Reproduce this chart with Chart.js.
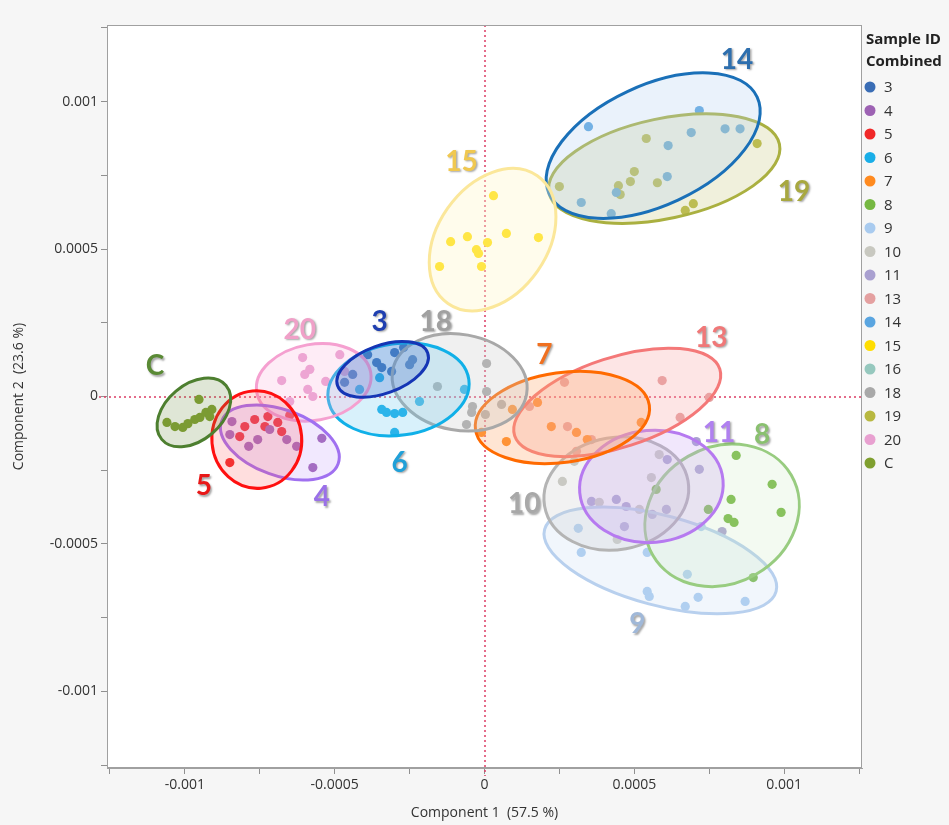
<!DOCTYPE html>
<html>
<head>
<meta charset="utf-8">
<script src="https://cdn.jsdelivr.net/npm/chart.js@4/dist/chart.umd.min.js"></script>
<style>
  body { margin: 0; background: #f6f6f6; }
  canvas { display: block; }
</style>
</head>
<body>
<canvas id="pca" width="949" height="825"></canvas>
<script>
// legend order
var groupNames = ['3', '4', '5', '6', '7', '8', '9', '10', '11', '13', '14', '15', '16', '18', '19', '20', 'C'];
var groupColors = ['#3a6db5', '#9d62b3', '#f02828', '#19aee8', '#ff8a1f', '#76b843', '#a9cbef', '#c8c8c0',
                   '#a9a0d0', '#e4a0a0', '#5aa5e0', '#ffdd00', '#96c8be', '#a8a8a8', '#b8b840', '#e8a0d0', '#7f9f2f'];

// scores, [component 1, component 2]
var pts3 = [[-0.00044, 0.000075], [-0.00039, 0.000142], [-0.00036, 0.000115], [-0.000343, 0.000098], [-0.00031, 0.000085],
            [-0.0003, 0.000149], [-0.00025, 0.000108], [-0.00024, 0.000125], [-0.00027, 0.000166], [-0.000467, 0.000048]];
var pts4 = [[-0.00085, -0.000129], [-0.000843, -0.000085], [-0.000787, -0.000169], [-0.000757, -0.000146], [-0.000627, -0.000169],
            [-0.000573, -0.000241], [-0.000543, -0.000142], [-0.000717, -0.000112], [-0.00066, -0.000146]];
var pts5 = [[-0.0008, -0.000102], [-0.000723, -0.000068], [-0.00069, -0.000088], [-0.000677, -0.000119], [-0.000733, -0.000102],
            [-0.00085, -0.000224], [-0.00065, -0.000064], [-0.000767, -0.000078], [-0.000817, -0.000136]];
var pts6 = [[-0.000343, -0.000044], [-0.000327, -0.000054], [-0.0003, -0.000058], [-0.000273, -0.000054], [-0.000217, -0.000017],
            [-0.0003, -0.000122], [-0.000067, 0.000024], [-0.00035, 0.000064], [-0.000417, 0.000024]];
var pts7 = [[-0.00001, -0.000122], [0.000073, -0.000153], [0.000093, -0.000044], [0.000177, -0.00002], [0.000223, -0.000102],
            [0.000307, -0.000122], [0.000343, -0.000146], [0.000523, -0.000088]];
var pts8 = [[0.00084, -0.0002], [0.00096, -0.000298], [0.00099, -0.000393], [0.000823, -0.000349], [0.000813, -0.000414],
            [0.000833, -0.000427], [0.000747, -0.000383], [0.000573, -0.000315], [0.000897, -0.000614]];
var pts9 = [[0.000313, -0.000447], [0.000323, -0.000529], [0.000543, -0.000529], [0.000543, -0.000661], [0.00055, -0.000678],
            [0.00067, -0.000712], [0.000713, -0.000681], [0.00087, -0.000695], [0.000677, -0.000603], [0.000723, -0.000441]];
var pts10 = [[0.00026, -0.000288], [0.0003, -0.00022], [0.000383, -0.000359], [0.000443, -0.000485], [0.000517, -0.000383],
             [0.000583, -0.000197], [0.000557, -0.000275]];
var pts11 = [[0.000357, -0.000356], [0.00044, -0.000349], [0.000473, -0.000373], [0.000467, -0.000441], [0.00061, -0.000214],
             [0.000717, -0.000247], [0.000707, -0.000153], [0.000607, -0.000383], [0.000793, -0.000458], [0.00056, -0.0004]];
var pts13 = [[0.000267, 0.000048], [0.00015, -0.000034], [0.000277, -0.000102], [0.000593, 0.000054], [0.00075, -0.000003],
             [0.000653, -0.000071], [0.000307, -0.000186], [0.000357, -0.000146]];
var pts14 = [[0.000347, 0.000915], [0.000717, 0.00097], [0.00069, 0.000895], [0.000803, 0.000908], [0.000853, 0.000908],
             [0.000613, 0.000851], [0.00061, 0.000746], [0.000323, 0.000658], [0.000423, 0.00062], [0.00044, 0.000692]];
var pts15 = [[0.00003, 0.000681], [-0.000113, 0.000525], [-0.000057, 0.000542], [-0.000027, 0.000498], [-0.00002, 0.000485],
             [0.00001, 0.000522], [0.000073, 0.000553], [0.00018, 0.000539], [-0.00015, 0.000441], [-0.00001, 0.000441]];
var pts16 = [];
var pts18 = [[0.000007, 0.000112], [-0.000157, 0.000034], [0.000007, 0.000017], [-0.00004, -0.000034], [-0.000043, -0.000054],
             [-0.00006, -0.000095], [0.000057, -0.000027], [0.000003, -0.000061]];
var pts19 = [[0.00054, 0.000875], [0.00091, 0.000858], [0.00025, 0.000712], [0.0005, 0.000763], [0.000487, 0.000729],
             [0.000447, 0.000715], [0.000453, 0.000685], [0.000577, 0.000725], [0.00067, 0.000631], [0.000697, 0.000654]];
var pts20 = [[-0.000607, 0.000132], [-0.000677, 0.000054], [-0.000583, 0.000092], [-0.0006, 0.000075], [-0.00059, 0.000024],
             [-0.000573, 0], [-0.000483, 0.000142], [-0.00053, 0.000051], [-0.000467, 0.000085], [-0.00065, -0.000017]];
var ptsC = [[-0.00106, -0.000088], [-0.001033, -0.000102], [-0.001007, -0.000105], [-0.000967, -0.000078], [-0.00095, -0.000071],
            [-0.00093, -0.000054], [-0.00091, -0.000044], [-0.000953, -0.00001], [-0.000917, -0.000068], [-0.00099, -0.000092]];
var allPts = [pts3, pts4, pts5, pts6, pts7, pts8, pts9, pts10, pts11, pts13, pts14, pts15, pts16, pts18, pts19, pts20, ptsC];

// density ellipses (centre, semi axes, angle in degrees), drawn in this order
var ellNames = ['9', '8', '10', '11', '13', '7', '19', '14', '15', '18', '6', '20', '3', '4', '5', 'C'];
var ellCx = [0.000587, 0.000793, 0.00044, 0.000557, 0.000443, 0.00026, 0.0006, 0.000563, 0.000027, -0.000083, -0.000287, -0.00057, -0.00034, -0.000683, -0.00076, -0.00097];
var ellCy = [-0.000556, -0.000403, -0.000329, -0.000305, -0.00002, -0.000071, 0.000773, 0.000851, 0.000532, 0.000048, 0.000024, 0.000048, 0.000092, -0.000156, -0.000146, -0.000054];
var ellA = [0.0004, 0.000267, 0.000243, 0.00024, 0.00036, 0.000293, 0.000393, 0.000383, 0.00026, 0.000227, 0.000237, 0.000193, 0.00016, 0.000207, 0.000163, 0.00014];
var ellB = [0.00015, 0.000227, 0.000187, 0.000187, 0.00015, 0.00015, 0.000167, 0.0002, 0.000183, 0.00016, 0.000153, 0.000127, 0.00008, 0.00011, 0.00015, 0.000093];
var ellAng = [-15, 30, 10, 5, 18, 8, 12, 25, 55, -10, 8, 10, 20, -20, 95, 40];
var ellStroke = ['#b8d0ee', '#98cc80', '#b4b4b4', '#b67af0', '#f47878', '#ff6a00', '#aab040', '#1a70b8',
                 '#fbe79a', '#a8a8a8', '#10b0e8', '#f5a0d0', '#1535b5', '#a070f0', '#ff1010', '#4d7f2f'];
var ellFill = ['rgba(200,220,245,0.25)', 'rgba(200,230,190,0.22)', 'rgba(205,205,205,0.25)', 'rgba(200,160,245,0.25)',
               'rgba(250,170,170,0.3)', 'rgba(255,170,110,0.3)', 'rgba(200,200,130,0.28)', 'rgba(180,210,240,0.28)',
               'rgba(255,245,200,0.35)', 'rgba(205,205,205,0.3)', 'rgba(100,200,240,0.25)', 'rgba(250,180,220,0.25)',
               'rgba(60,100,200,0.25)', 'rgba(190,150,250,0.22)', 'rgba(255,90,90,0.2)', 'rgba(110,140,70,0.22)'];

// group labels anchored at data coordinates
var lblText = ['14', '15', '19', '20', '3', '18', 'C', '7', '13', '11', '8', '5', '4', '6', '10', '9'];
var lblX = [0.000843, -0.000077, 0.001033, -0.000617, -0.00035, -0.000163, -0.0011, 0.0002, 0.000757, 0.000783, 0.000927, -0.000937, -0.000543, -0.000283, 0.000133, 0.00051];
var lblY = [0.001142, 0.000797, 0.000695, 0.000227, 0.000254, 0.000254, 0.000102, 0.000142, 0.0002, -0.000122, -0.000132, -0.000305, -0.000342, -0.000224, -0.000366, -0.000773];
var lblColor = ['#2e6fae', '#f0c850', '#a8a840', '#f0a0c8', '#1f3fb0', '#a0a0a0', '#5a8a35', '#f07020',
                '#f07878', '#b080f0', '#8ac070', '#e81818', '#9a70e8', '#20a0d8', '#a8a8a8', '#a0b8d8'];

// axes
var axisMin = -0.00126, axisMax = 0.00126;
var tickValues = [-0.00125, -0.001, -0.00075, -0.0005, -0.00025, 0, 0.00025, 0.0005, 0.00075, 0.001, 0.00125];
var majorTicks = [-0.001, -0.0005, 0, 0.0005, 0.001];
var tickLabels = ['-0.001', '-0.0005', '0', '0.0005', '0.001'];

function tickText(v) {
    for (var i = 0; i < majorTicks.length; i++) {
        if (Math.abs(v - majorTicks[i]) < 1e-9) return tickLabels[i];
    }
    return '';
}

var datasets = [];
for (var i = 0; i < groupNames.length; i++) {
    datasets.push({
        label: groupNames[i],
        data: allPts[i].map(function (p) { return { x: p[0], y: p[1] }; }),
        backgroundColor: groupColors[i],
        borderWidth: 0,
        pointRadius: 4.6,
        pointHoverRadius: 4.6
    });
}

var bgPlugin = {
    id: 'bg',
    beforeDraw: function (chart) {
        var ctx = chart.ctx, a = chart.chartArea;
        ctx.save();
        ctx.fillStyle = '#f6f6f6';
        ctx.fillRect(0, 0, chart.width, chart.height);
        ctx.fillStyle = '#ffffff';
        ctx.fillRect(a.left, a.top, a.right - a.left, a.bottom - a.top);
        ctx.restore();
    },
    beforeDatasetsDraw: function (chart) {
        // dotted zero lines
        var ctx = chart.ctx, a = chart.chartArea;
        var x0 = chart.scales.x.getPixelForValue(0);
        var y0 = chart.scales.y.getPixelForValue(0);
        ctx.save();
        ctx.strokeStyle = '#dc3c64';
        ctx.lineWidth = 1.5;
        ctx.setLineDash([2, 3]);
        ctx.beginPath();
        ctx.moveTo(Math.round(x0), a.top);
        ctx.lineTo(Math.round(x0), a.bottom + 8);
        ctx.moveTo(a.left - 8, Math.round(y0));
        ctx.lineTo(a.right, Math.round(y0));
        ctx.stroke();
        ctx.restore();
    },
    afterDatasetsDraw: function (chart) {
        var ctx = chart.ctx, a = chart.chartArea;
        var sx = chart.scales.x, sy = chart.scales.y;
        var k = (sx.getPixelForValue(0.001) - sx.getPixelForValue(0)) / 0.001;
        ctx.save();
        ctx.beginPath();
        ctx.rect(a.left, a.top, a.right - a.left, a.bottom - a.top);
        ctx.clip();
        for (var i = 0; i < ellNames.length; i++) {
            ctx.beginPath();
            ctx.ellipse(sx.getPixelForValue(ellCx[i]), sy.getPixelForValue(ellCy[i]),
                ellA[i] * k, ellB[i] * k, -ellAng[i] * Math.PI / 180, 0, Math.PI * 2);
            ctx.fillStyle = ellFill[i];
            ctx.fill();
            ctx.lineWidth = 3;
            ctx.strokeStyle = ellStroke[i];
            ctx.stroke();
        }
        ctx.restore();

        // group labels
        ctx.save();
        ctx.font = 'bold 28px Lato, "Open Sans", sans-serif';
        ctx.textAlign = 'center';
        ctx.textBaseline = 'middle';
        ctx.shadowColor = 'rgba(0,0,0,0.35)';
        ctx.shadowOffsetX = 1.5;
        ctx.shadowOffsetY = 1.5;
        ctx.shadowBlur = 2;
        for (var j = 0; j < lblText.length; j++) {
            ctx.fillStyle = lblColor[j];
            ctx.fillText(lblText[j], sx.getPixelForValue(lblX[j]), sy.getPixelForValue(lblY[j]));
        }
        ctx.restore();

        // frame
        ctx.save();
        ctx.strokeStyle = '#a0a0a0';
        ctx.lineWidth = 1;
        ctx.strokeRect(a.left + 0.5, a.top + 0.5, a.right - a.left - 1, a.bottom - a.top - 1);
        ctx.restore();
    },
    afterDraw: function (chart) {
        // legend
        var ctx = chart.ctx;
        ctx.save();
        ctx.fillStyle = '#222';
        ctx.font = 'bold 15px "Open Sans", sans-serif';
        ctx.textBaseline = 'middle';
        ctx.fillText('Sample ID', 866, 40);
        ctx.fillText('Combined', 866, 62);
        ctx.font = '15px "Open Sans", sans-serif';
        for (var i = 0; i < groupNames.length; i++) {
            var y = 87 + i * 23.5;
            ctx.fillStyle = groupColors[i];
            ctx.beginPath();
            ctx.arc(870, y, 5.5, 0, Math.PI * 2);
            ctx.fill();
            ctx.fillStyle = '#333';
            ctx.fillText(groupNames[i], 884, y + 1);
        }
        ctx.restore();
    }
};

function scaleOpts(title, titlePad) {
    return {
        type: 'linear',
        min: axisMin,
        max: axisMax,
        afterBuildTicks: function (scale) {
            scale.ticks = tickValues.map(function (v) { return { value: v }; });
        },
        ticks: {
            autoSkip: false,
            maxRotation: 0,
            padding: 3,
            color: '#333',
            font: { family: '"Open Sans", sans-serif', size: 14 },
            callback: function (v) { return tickText(v); }
        },
        grid: { drawOnChartArea: false, drawTicks: true, tickLength: 6, tickColor: '#909090' },
        border: { display: true, color: '#a0a0a0' },
        title: {
            display: true,
            text: title,
            color: '#333',
            font: { family: '"Open Sans", sans-serif', size: 14 },
            padding: titlePad
        }
    };
}

var xOpts = scaleOpts('Component 1  (57.5 %)', { top: 2, bottom: 4 });
xOpts.afterFit = function (scale) { scale.height = 57; };
var yOpts = scaleOpts('Component 2  (23.6 %)', { top: 11, bottom: 0 });
yOpts.afterFit = function (scale) { scale.width = 107; };

new Chart(document.getElementById('pca'), {
    type: 'scatter',
    data: { datasets: datasets },
    options: {
        responsive: false,
        animation: false,
        devicePixelRatio: 1,
        layout: { padding: { left: 0, top: 25, right: 87, bottom: 0 } },
        plugins: { legend: { display: false }, tooltip: { enabled: false } },
        scales: { x: xOpts, y: yOpts }
    },
    plugins: [bgPlugin]
});
</script>
</body>
</html>
